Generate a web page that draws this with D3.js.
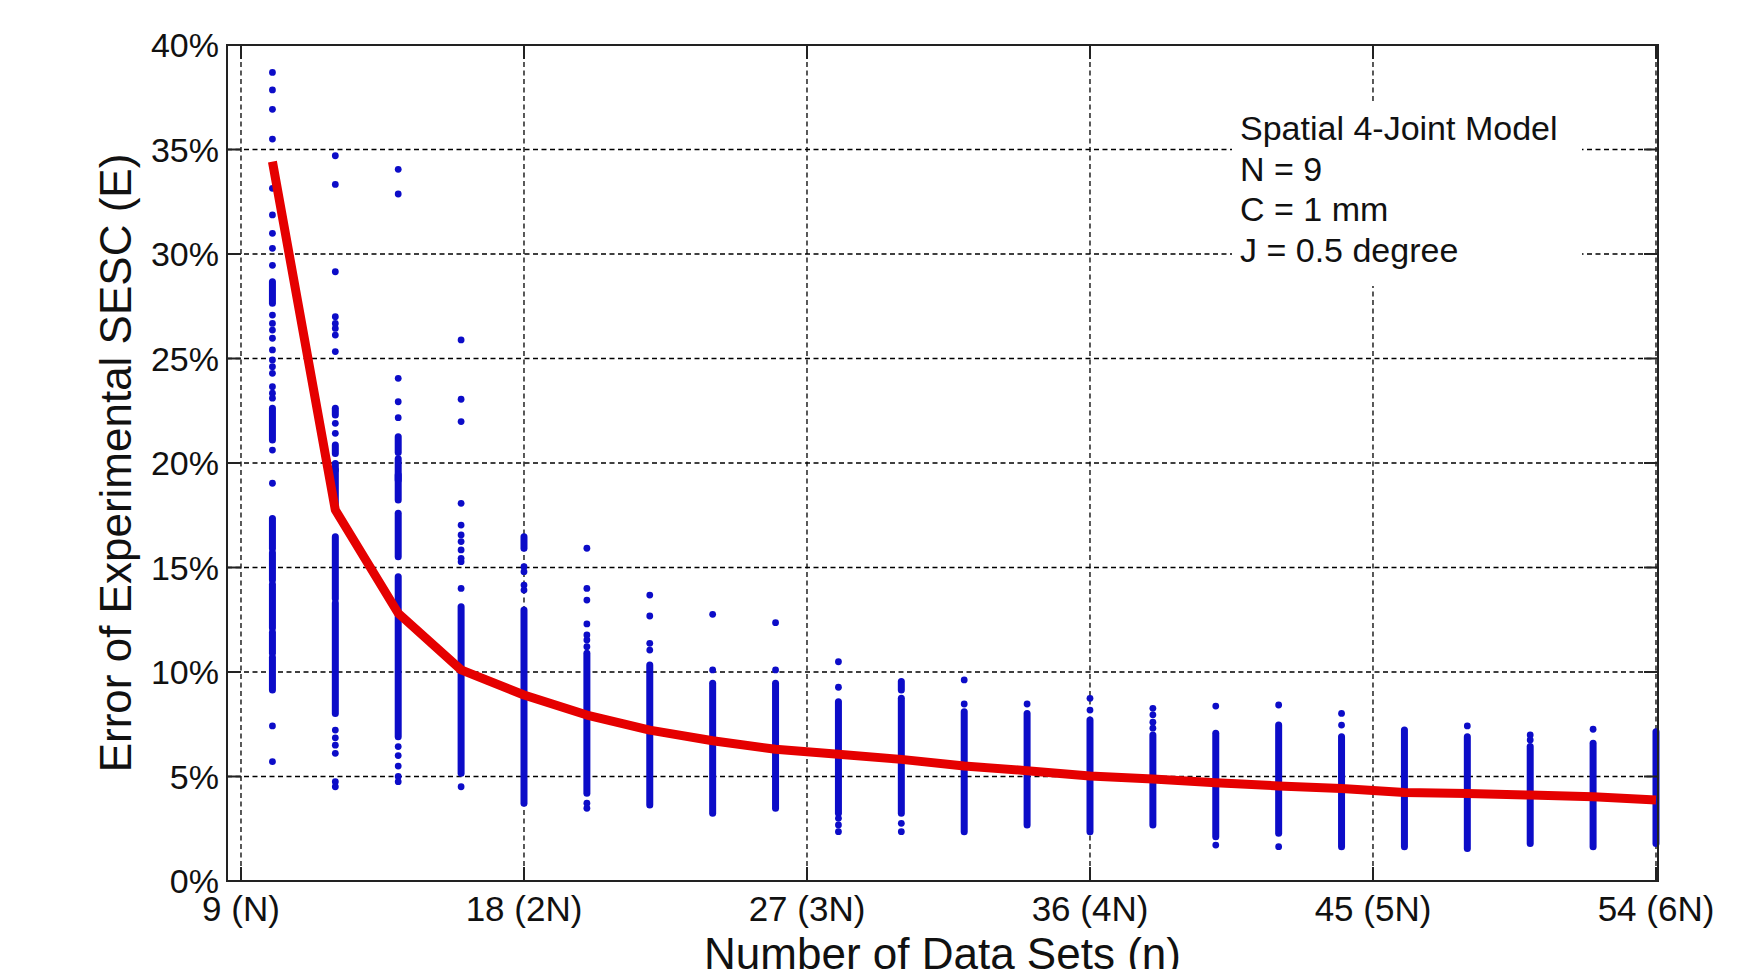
<!DOCTYPE html>
<html>
<head>
<meta charset="utf-8">
<script src="https://cdn.jsdelivr.net/npm/d3@7"></script>
<style>
  body { margin: 0; background: #fff; }
  text { font-family: "Liberation Sans", Arial, sans-serif; fill: #111; }
</style>
</head>
<body>
<div id="chart"></div>
<script>
// number of data sets for each trial column
var nSets = [10, 12, 14, 16, 18, 20, 22, 24, 26, 28, 30, 32, 34, 36, 38, 40, 42, 44, 46, 48, 50, 52, 54];

// average error (%) - red line
var meanError = [34.42, 17.75, 12.81, 10.1, 8.9, 7.94, 7.22, 6.71, 6.3, 6.06, 5.82, 5.5,
                 5.28, 5.02, 4.88, 4.7, 4.55, 4.43, 4.24, 4.19, 4.11, 4.03, 3.88];

// isolated trial errors (%) per column
var singleDots = [
    [38.69, 37.85, 36.92, 35.5, 33.14, 31.87, 30.99, 30.27, 29.46, 27.08, 26.68, 26.36, 25.97, 25.41,
     24.93, 24.61, 24.29, 23.65, 23.34, 23.1, 20.62, 19.03, 7.42, 5.71],
    [34.7, 33.33, 29.15, 27.0, 26.68, 26.44, 26.12, 25.33, 21.9, 21.42, 7.22, 6.85, 6.5, 6.11, 4.75, 4.51],
    [34.05, 32.87, 24.05, 22.93, 22.17, 6.43, 6.0, 5.5, 5.0, 4.75],
    [25.89, 23.05, 21.98, 18.07, 17.03, 16.56, 16.24, 15.84, 15.44, 15.28, 14.0, 4.51],
    [15.04, 14.8, 14.16, 13.92],
    [15.92, 14.0, 13.44, 12.3, 11.77, 11.53, 11.21, 3.72, 3.48],
    [13.68, 12.68, 11.37, 11.05],
    [12.76, 10.1],
    [12.36, 10.1],
    [10.49, 9.27, 3.0, 2.68, 2.36],
    [2.76, 2.36],
    [9.62, 8.47],
    [8.47],
    [8.74, 8.18],
    [8.26, 7.95, 7.6, 7.31],
    [8.37, 1.72],
    [8.42, 1.64],
    [8.02, 7.46],
    [],
    [7.42],
    [6.99, 6.75],
    [7.26],
    []
];

// densely packed trial errors (%) per column, as [low, high]
var denseRuns = [
    [[27.64, 28.67], [21.1, 22.62], [15.9, 17.35], [14.4, 15.7], [12.1, 14.2], [10.9, 11.9], [9.14, 10.7]],
    [[22.3, 22.62], [20.46, 20.86], [19.66, 19.98], [17.75, 19.66], [13.5, 16.47], [8.02, 13.3]],
    [[20.5, 21.26], [19.19, 20.2], [18.23, 19.43], [15.52, 17.59], [6.9, 14.56]],
    [[5.15, 13.12]],
    [[15.92, 16.47], [3.72, 12.97]],
    [[4.2, 10.9]],
    [[3.64, 10.33]],
    [[3.24, 9.46]],
    [[3.48, 9.46]],
    [[3.24, 8.58]],
    [[9.14, 9.54], [3.24, 8.74]],
    [[2.36, 8.1]],
    [[2.68, 8.02]],
    [[2.36, 7.7]],
    [[2.68, 6.99]],
    [[2.12, 7.07]],
    [[2.28, 7.46]],
    [[1.64, 6.9]],
    [[1.64, 7.22]],
    [[1.56, 6.9]],
    [[1.8, 6.43]],
    [[1.64, 6.59]],
    [[1.8, 7.14]]
];

var xTicks = [9, 18, 27, 36, 45, 54];
var xTickLabels = ["9 (N)", "18 (2N)", "27 (3N)", "36 (4N)", "45 (5N)", "54 (6N)"];
var yTicks = [0, 5, 10, 15, 20, 25, 30, 35, 40];
var infoLines = ["Spatial 4-Joint Model", "N = 9", "C = 1 mm", "J = 0.5 degree"];

var width = 1743, height = 969;
var plotL = 227, plotR = 1658, plotT = 45, plotB = 881;
var blue = "#0c0cc8";

var svg = d3.select("#chart").append("svg").attr("width", width).attr("height", height);

var x = d3.scaleLinear().domain([8.555, 54.064]).range([plotL, plotR]);
var y = d3.scaleLinear().domain([0, 40]).range([plotB, plotT]);

// grid
var grid = svg.append("g").attr("stroke", "#000").attr("stroke-width", 1.3).attr("stroke-dasharray", "5,3.5");
grid.selectAll(".gx").data(xTicks).enter().append("line")
    .attr("x1", function (d) { return x(d); }).attr("x2", function (d) { return x(d); })
    .attr("y1", plotT).attr("y2", plotB);
grid.selectAll(".gy").data(yTicks).enter().append("line")
    .attr("x1", plotL).attr("x2", plotR)
    .attr("y1", function (d) { return y(d); }).attr("y2", function (d) { return y(d); });

// blue trial points
var cols = svg.append("g").selectAll("g").data(nSets).enter().append("g");

cols.each(function (n, i) {
    var g = d3.select(this);
    g.selectAll("line").data(denseRuns[i]).enter().append("line")
        .attr("x1", x(n)).attr("x2", x(n))
        .attr("y1", function (d) { return y(d[0]); })
        .attr("y2", function (d) { return y(d[1]); })
        .attr("stroke", blue).attr("stroke-width", 7).attr("stroke-linecap", "round");
    g.selectAll("circle").data(singleDots[i]).enter().append("circle")
        .attr("cx", x(n)).attr("cy", function (d) { return y(d); })
        .attr("r", 3.4).attr("fill", blue);
});

// red average line
var line = d3.line()
    .x(function (d, i) { return x(nSets[i]); })
    .y(function (d) { return y(d); });
svg.append("path").datum(meanError)
    .attr("d", line).attr("fill", "none")
    .attr("stroke", "#e50000").attr("stroke-width", 9).attr("stroke-linejoin", "round");

// box and tick marks
var axes = svg.append("g").attr("stroke", "#222").attr("stroke-width", 2);
axes.append("rect").attr("x", plotL).attr("y", plotT).attr("width", plotR - plotL).attr("height", plotB - plotT)
    .attr("fill", "none");
var tl = 14;
xTicks.forEach(function (d) {
    axes.append("line").attr("x1", x(d)).attr("x2", x(d)).attr("y1", plotB).attr("y2", plotB - tl);
    axes.append("line").attr("x1", x(d)).attr("x2", x(d)).attr("y1", plotT).attr("y2", plotT + tl);
});
yTicks.forEach(function (d) {
    axes.append("line").attr("x1", plotL).attr("x2", plotL + tl).attr("y1", y(d)).attr("y2", y(d));
    axes.append("line").attr("x1", plotR).attr("x2", plotR - tl).attr("y1", y(d)).attr("y2", y(d));
});

// tick labels
svg.append("g").selectAll("text").data(yTicks).enter().append("text")
    .attr("x", plotL - 8).attr("y", function (d) { return y(d); })
    .attr("dy", "0.36em").attr("text-anchor", "end").attr("font-size", 34)
    .text(function (d) { return d + "%"; });

svg.append("g").selectAll("text").data(xTicks).enter().append("text")
    .attr("x", function (d) { return x(d); }).attr("y", 921)
    .attr("text-anchor", "middle").attr("font-size", 35)
    .text(function (d, i) { return xTickLabels[i]; });

// axis titles
svg.append("text").attr("x", (plotL + plotR) / 2).attr("y", 969)
    .attr("text-anchor", "middle").attr("font-size", 44)
    .text("Number of Data Sets (n)");

svg.append("text").attr("transform", "translate(131," + ((plotT + plotB) / 2) + ") rotate(-90)")
    .attr("text-anchor", "middle").attr("font-size", 44)
    .text("Error of Experimental SESC (E)");

// annotation box
svg.append("rect").attr("x", 1232).attr("y", 102).attr("width", 350).attr("height", 184).attr("fill", "#fff");
svg.append("g").selectAll("text").data(infoLines).enter().append("text")
    .attr("x", 1240).attr("y", function (d, i) { return 140 + i * 40.5; })
    .attr("font-size", 34)
    .text(function (d) { return d; });
</script>
</body>
</html>
